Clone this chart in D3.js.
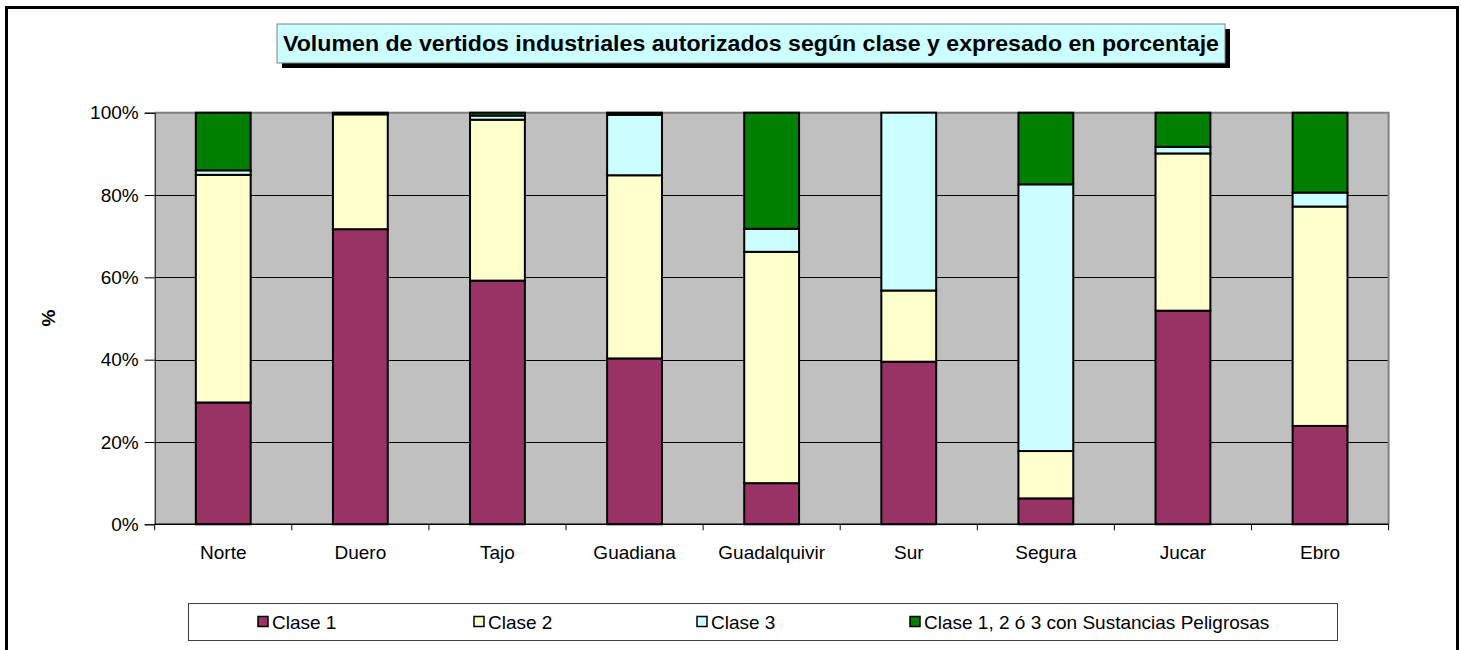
<!DOCTYPE html>
<html>
<head>
<meta charset="utf-8">
<script src="https://cdn.jsdelivr.net/npm/d3@7"></script>
<style>
  html, body { margin: 0; padding: 0; background: #fff; }
  svg { display: block; font-family: "Liberation Sans", Arial, sans-serif; }
</style>
</head>
<body>
<svg id="chart" width="1461" height="650"></svg>
<script>
// ---- data ----
const categories = ["Norte", "Duero", "Tajo", "Guadiana", "Guadalquivir", "Sur", "Segura", "Jucar", "Ebro"];
const seriesNames = ["Clase 1", "Clase 2", "Clase 3", "Clase 1, 2 ó 3 con Sustancias Peligrosas"];
const clase1 = [29.6, 71.7, 59.2, 40.3, 10.0, 39.5, 6.3, 51.9, 23.9];
const clase2 = [55.3, 27.9, 39.1, 44.5, 56.2, 17.3, 11.5, 38.2, 53.3];
const clase3 = [1.1, 0.1, 1.0, 14.7, 5.6, 43.2, 64.8, 1.6, 3.4];
const peligrosas = [14.0, 0.3, 0.7, 0.5, 28.2, 0.0, 17.4, 8.3, 19.4];
const yTicks = [0, 20, 40, 60, 80, 100];
const titleText = "Volumen de vertidos industriales autorizados según clase y expresado en porcentaje";
const yTitle = "%";

// ---- styles ----
const colors = ["#993366", "#FFFFCC", "#CCFFFF", "#008000"];
const svg = d3.select("#chart");
const W = 1461, H = 650;
const plot = { left: 154.7, right: 1388.6, top: 112.7, bottom: 524.3 };

const seriesArrays = [clase1, clase2, clase3, peligrosas];
const rows = categories.map((c, i) => {
  const r = { cat: c };
  seriesNames.forEach((s, k) => r[s] = seriesArrays[k][i]);
  return r;
});
const stacked = d3.stack().keys(seriesNames)(rows);

const x = d3.scaleBand().domain(categories).range([plot.left, plot.right])
  .paddingInner(0.6).paddingOuter(0.3);
const y = d3.scaleLinear().domain([0, 100]).range([plot.bottom, plot.top]);

// outer frame
svg.append("rect").attr("x", 0).attr("y", 0).attr("width", W).attr("height", H).attr("fill", "#fff");
svg.append("path")
  .attr("d", `M6.5,${H + 5} V7.5 H1457.5 V${H + 5}`)
  .attr("fill", "none").attr("stroke", "#000").attr("stroke-width", 3);

// title box with shadow
const tb = { x: 277, y: 24, w: 948, h: 39 };
svg.append("rect").attr("x", tb.x + 5).attr("y", tb.y + 5).attr("width", tb.w).attr("height", tb.h).attr("fill", "#000");
svg.append("rect").attr("x", tb.x).attr("y", tb.y).attr("width", tb.w).attr("height", tb.h)
  .attr("fill", "#CCFFFF").attr("stroke", "#808080").attr("stroke-width", 1);
svg.append("text").attr("x", tb.x + tb.w / 2).attr("y", tb.y + 27)
  .attr("text-anchor", "middle").attr("font-size", 22).attr("font-weight", "bold")
  .attr("textLength", 936).attr("lengthAdjust", "spacingAndGlyphs")
  .attr("fill", "#000").text(titleText);

// plot background
svg.append("rect").attr("x", plot.left).attr("y", plot.top)
  .attr("width", plot.right - plot.left).attr("height", plot.bottom - plot.top)
  .attr("fill", "#C0C0C0");

// gridlines
svg.append("g").selectAll("line").data(yTicks.filter(t => t > 0 && t < 100)).join("line")
  .attr("x1", plot.left).attr("x2", plot.right)
  .attr("y1", d => Math.round(y(d)) + 0.5).attr("y2", d => Math.round(y(d)) + 0.5)
  .attr("stroke", "#000").attr("stroke-width", 1);

// plot border (top/right gray)
svg.append("path")
  .attr("d", `M${plot.left},${plot.top} H${plot.right} V${plot.bottom}`)
  .attr("fill", "none").attr("stroke", "#808080").attr("stroke-width", 2);

// bars
svg.append("g").selectAll("g").data(stacked).join("g")
  .attr("fill", (d, i) => colors[i])
  .selectAll("rect").data(d => d).join("rect")
  .attr("x", d => x(d.data.cat))
  .attr("width", x.bandwidth())
  .attr("y", d => y(d[1]))
  .attr("height", d => Math.max(0, y(d[0]) - y(d[1])))
  .attr("stroke", "#000").attr("stroke-width", 2);

// y axis
const yAxis = d3.axisLeft(y).tickValues(yTicks).tickFormat(d => d + "%").tickSize(10).tickPadding(6);
const gy = svg.append("g").attr("transform", `translate(${plot.left},0)`).call(yAxis);
gy.select(".domain").attr("stroke", "#000").attr("stroke-width", 1);
gy.selectAll(".tick line").attr("stroke", "#000");
gy.selectAll(".tick text").attr("font-size", 19).attr("font-family", "Liberation Sans, Arial, sans-serif").attr("fill", "#000");

// x axis
const xAxis = d3.axisBottom(x).tickSize(0).tickPadding(21);
const gx = svg.append("g").attr("transform", `translate(0,${plot.bottom})`).call(xAxis);
gx.select(".domain").remove();
gx.selectAll(".tick text").attr("font-size", 19).attr("font-family", "Liberation Sans, Arial, sans-serif").attr("fill", "#000");
svg.append("line").attr("x1", plot.left).attr("x2", plot.right)
  .attr("y1", plot.bottom).attr("y2", plot.bottom).attr("stroke", "#000").attr("stroke-width", 1.5);
// category boundary ticks
const bounds = d3.range(categories.length + 1).map(i => plot.left + i * x.step());
svg.append("g").selectAll("line").data(bounds).join("line")
  .attr("x1", d => d).attr("x2", d => d)
  .attr("y1", plot.bottom).attr("y2", plot.bottom + 6)
  .attr("stroke", "#000").attr("stroke-width", 1);

// y title
svg.append("text").attr("transform", "translate(55,318) rotate(-90)")
  .attr("text-anchor", "middle").attr("font-size", 19).attr("font-weight", "bold").text(yTitle);

// legend
const lg = { x: 188, y: 603, w: 1149, h: 37 };
svg.append("rect").attr("x", lg.x + 0.5).attr("y", lg.y + 0.5).attr("width", lg.w).attr("height", lg.h)
  .attr("fill", "#fff").attr("stroke", "#404040").attr("stroke-width", 1);
const legendX = [258, 474, 697, 910];
const li = svg.append("g").selectAll("g").data(seriesNames).join("g")
  .attr("transform", (d, i) => `translate(${legendX[i]},${lg.y + lg.h / 2})`);
li.append("rect").attr("x", 0).attr("y", -5).attr("width", 10).attr("height", 10)
  .attr("fill", (d, i) => colors[i]).attr("stroke", "#000").attr("stroke-width", 1.5);
li.append("text").attr("x", 14).attr("y", 7).attr("font-size", 19).attr("fill", "#000").text(d => d);
</script>
</body>
</html>
